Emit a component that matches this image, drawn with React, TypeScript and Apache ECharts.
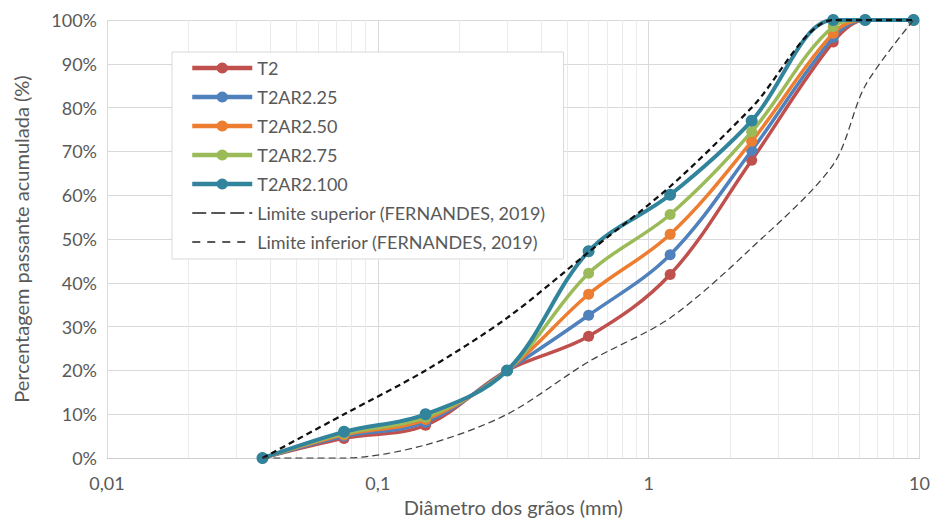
import React, { useEffect, useRef } from "react";
import * as echarts from "echarts";

const sizes = [0.0375, 0.075, 0.15, 0.3, 0.6, 1.2, 2.4, 4.8, 6.3, 9.5];
const t2 = [0, 4.5, 7.5, 20, 27.8, 41.9, 68, 95, 100, 100];
const t2ar225 = [0, 5, 8.2, 20, 32.6, 46.4, 70.2, 96, 100, 100];
const t2ar250 = [0, 5.3, 8.8, 20, 37.4, 51.1, 72.3, 97, 100, 100];
const t2ar275 = [0, 5.6, 9.3, 20, 42.2, 55.6, 74.5, 98.5, 100, 100];
const t2ar2100 = [0, 6, 10, 20, 47.2, 60.1, 77, 100, 100, 100];
const upperLimit = [0, 10, 20, 32, 47, 62, 80, 100, 100, 100];
const lowerLimit = [0, 0, 3, 10, 22, 32, 48, 67, 85, 100];

const seriesNames = ["T2", "T2AR2.25", "T2AR2.50", "T2AR2.75", "T2AR2.100"];
const seriesValues = [t2, t2ar225, t2ar250, t2ar275, t2ar2100];
const seriesColors = ["#C0504D", "#4F81BD", "#ED7D31", "#9BBB59", "#31849B"];
const upperName = "Limite superior (FERNANDES, 2019)";
const lowerName = "Limite inferior (FERNANDES, 2019)";
const minorGrid = [0.02, 0.03, 0.04, 0.05, 0.06, 0.07, 0.08, 0.09, 0.2, 0.3, 0.4, 0.5, 0.6, 0.7, 0.8, 0.9, 2, 3, 4, 5, 6, 7, 8, 9];

const FONT = "Lato";
const TXT = "#595959";

const pairs = (vals: number[]) => sizes.map((s, i) => [s, vals[i]]);

export default function App() {
  const ref = useRef<HTMLDivElement>(null);
  useEffect(() => {
    if (!ref.current) return;
    const chart = echarts.init(ref.current, undefined, { renderer: "svg" });
    const series: any[] = [
      {
        name: "minor",
        type: "line",
        data: [],
        silent: true,
        z: 0,
        markLine: {
          silent: true,
          z: 0,
          symbol: ["none", "none"],
          label: { show: false },
          lineStyle: { color: "#ebebeb", width: 1, type: "solid" },
          data: minorGrid.map((v) => ({ xAxis: v })),
        },
      },
    ];
    seriesNames.forEach((n, i) => {
      series.push({
        name: n,
        type: "line",
        data: pairs(seriesValues[i]),
        smooth: 0.35,
        symbol: "circle",
        symbolSize: i === 4 ? 12 : 11,
        z: 3 + i,
        lineStyle: { color: seriesColors[i], width: i === 4 ? 4 : 3.5 },
        itemStyle: { color: seriesColors[i] },
      });
    });
    series.push({
      name: upperName,
      type: "line",
      data: pairs(upperLimit),
      smooth: 0.3,
      symbol: "none",
      z: 10,
      lineStyle: { color: "#111111", width: 2.25, type: [6, 4] },
      itemStyle: { color: "#111111" },
    });
    series.push({
      name: lowerName,
      type: "line",
      data: pairs(lowerLimit),
      smooth: 0.3,
      symbol: "none",
      z: 10,
      lineStyle: { color: "#404040", width: 1.25, type: [7, 4] },
      itemStyle: { color: "#404040" },
    });

    const legendData: any[] = seriesNames.map((n, i) => ({
      name: n,
      lineStyle: { width: 4.5, color: seriesColors[i] },
    }));
    legendData.push({
      name: upperName,
      itemStyle: { color: "rgba(0,0,0,0)", borderWidth: 0 },
      lineStyle: { width: 1.5, type: [14, 5], color: "#222222" },
    });
    legendData.push({
      name: lowerName,
      itemStyle: { color: "rgba(0,0,0,0)", borderWidth: 0 },
      lineStyle: { width: 1.5, type: [8, 7], color: "#222222" },
    });

    chart.setOption({
      animation: false,
      backgroundColor: "#ffffff",
      textStyle: { fontFamily: FONT },
      grid: { left: 107, right: 13, top: 20, bottom: 57, containLabel: false },
      legend: {
        data: legendData,
        orient: "vertical",
        left: 172,
        top: 52,
        z: 20,
        padding: [7, 18, 8, 18],
        itemGap: 11,
        itemWidth: 60,
        itemHeight: 14,
        backgroundColor: "#ffffff",
        borderColor: "#d9d9d9",
        borderWidth: 1,
        textStyle: { color: TXT, fontSize: 18, fontFamily: FONT },
      },
      xAxis: {
        type: "log",
        logBase: 10,
        min: 0.01,
        max: 10,
        name: "Diâmetro dos grãos (mm)",
        nameLocation: "middle",
        nameGap: 36,
        nameTextStyle: { color: TXT, fontSize: 20, fontFamily: FONT },
        axisLine: { show: true, lineStyle: { color: "#d0d0d0", width: 1 } },
        axisTick: { show: false },
        axisLabel: {
          color: TXT,
          fontSize: 18,
          fontFamily: FONT,
          margin: 16,
          formatter: (v: number) => String(Number(v.toPrecision(6))).replace(".", ","),
        },
        splitLine: { show: true, lineStyle: { color: "#d9d9d9", width: 1 } },
      },
      yAxis: {
        type: "value",
        min: 0,
        max: 100,
        interval: 10,
        name: "Percentagem passante acumulada (%)",
        nameLocation: "middle",
        nameRotate: 90,
        nameGap: 76,
        nameTextStyle: { color: TXT, fontSize: 20, fontFamily: FONT },
        axisLine: { show: false },
        axisTick: { show: false },
        axisLabel: { color: TXT, fontSize: 18, fontFamily: FONT, margin: 10, formatter: "{value}%" },
        splitLine: { show: true, lineStyle: { color: "#d9d9d9", width: 1 } },
      },
      series,
    });
    return () => chart.dispose();
  }, []);
  return <div ref={ref} style={{ width: 933, height: 522, position: "absolute", left: 0, top: 0 }} />;
}
